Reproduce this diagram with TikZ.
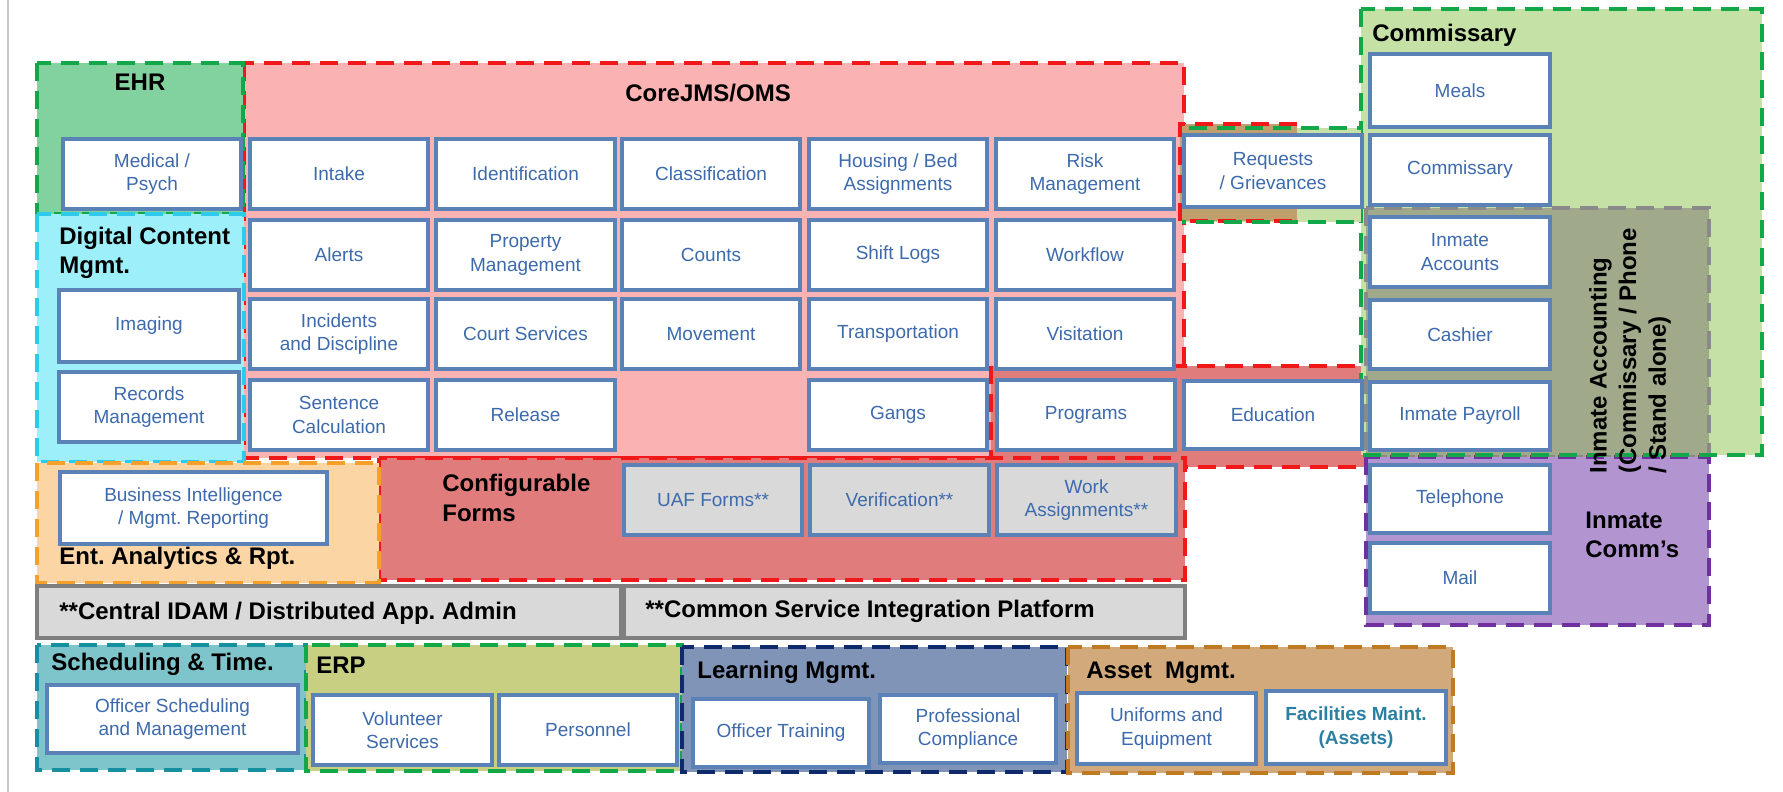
\documentclass[tikz,border=0pt]{standalone}
\usepackage{fontspec}
\setmainfont{Liberation Sans}
\frenchspacing

% fills of the functional groups
\definecolor{ehrfill}{HTML}{82D2A0}
\definecolor{corefill}{HTML}{FAB2B2}
\definecolor{formsfill}{HTML}{E07C7C}
\definecolor{dcfill}{HTML}{9DEFF9}
\definecolor{entfill}{HTML}{FCD5A5}
\definecolor{commfill}{HTML}{C5E1A5}
\definecolor{iafill}{HTML}{A0AA8A}
\definecolor{imcfill}{HTML}{B294D1}
\definecolor{schedfill}{HTML}{7EC4CB}
\definecolor{erpfill}{HTML}{C8CF83}
\definecolor{lrnfill}{HTML}{8094B8}
\definecolor{assetfill}{HTML}{D1A97A}
\definecolor{reqfill}{HTML}{BFA06C}
\definecolor{grayfill}{HTML}{D9D9D9}
% outlines
\definecolor{gline}{HTML}{12A84A}
\definecolor{rline}{HTML}{F01818}
\definecolor{cline}{HTML}{2CCBEB}
\definecolor{oline}{HTML}{F5A02A}
\definecolor{barline}{HTML}{7F7F7F}
\definecolor{tline}{HTML}{14909E}
\definecolor{nline}{HTML}{0F2A6B}
\definecolor{bline}{HTML}{C07A22}
\definecolor{pline}{HTML}{7030A0}
\definecolor{gyline}{HTML}{8A8A8A}
\definecolor{itemline}{HTML}{5A82B6}
\definecolor{itemtext}{HTML}{3D6AAC}
\definecolor{facitext}{HTML}{2A7FA3}

\tikzset{
  grp/.style={line width=2pt, dash pattern=on 9pt off 5pt},
  item/.style={draw=itemline, line width=1.6pt, fill=white, text=itemtext,
    font=\fontsize{9.5}{11.6}\selectfont, align=center, inner sep=0pt},
  formitem/.style={fill=grayfill},
  ttl/.style={font=\bfseries\fontsize{12}{14.8}\selectfont, text=black,
    inner sep=0pt, align=left},
  bar/.style={draw=barline, line width=2pt, fill=grayfill},
}

% box given by its corners: [style]{name}{x1}{y1}{x2}{y2}{text}
\newcommand\cellbox[7][]{%
  \pgfmathsetmacro\cbx{(#3+#5)/2}%
  \pgfmathsetmacro\cby{(#4+#6)/2}%
  \pgfmathsetmacro\cbw{(#5-#3)*0.5}%
  \pgfmathsetmacro\cbh{(#6-#4)*0.5}%
  \node[item,#1,minimum width=\cbw pt,minimum height=\cbh pt] (#2) at (\cbx,\cby) {#7};}

\begin{document}
\begin{tikzpicture}[x=0.5pt,y=-0.5pt]
\useasboundingbox (0,0) rectangle (1783,792);
\fill[white] (0,0) rectangle (1783,792);
\draw[line width=0.6pt, draw=black!22] (8,0) -- (8,792);

% ---- Core JMS / OMS and its red sub-areas
\draw[grp, draw=rline, fill=corefill] (244,63) rectangle (1184,458);
\draw[grp, draw=rline, fill=formsfill] (991,366) rectangle (1366,467);
\draw[grp, draw=rline, fill=formsfill] (379,458) rectangle (1185,580);

% ---- left column groups
\draw[grp, draw=gline, fill=ehrfill] (37,63) rectangle (243,214);
\draw[grp, draw=cline, fill=dcfill] (37,214) rectangle (244,462);
\draw[grp, draw=oline, fill=entfill] (37,463) rectangle (379,583);

% ---- shared platforms
\draw[bar] (37,586) rectangle (621,638);
\draw[bar] (624,586) rectangle (1185,638);

% ---- bottom row groups
\draw[grp, draw=tline, fill=schedfill] (37,645) rectangle (306,770);
\draw[grp, draw=gline, fill=erpfill] (306,645) rectangle (682,771);
\draw[grp, draw=nline, fill=lrnfill] (682,647) rectangle (1067,772);
\draw[grp, draw=bline, fill=assetfill] (1068,647) rectangle (1453,773);

% ---- commissary side
\fill[commfill] (1361,9) rectangle (1762,455);
\draw[grp, draw=gyline, fill=iafill] (1366,208) rectangle (1709,457);
\draw[grp, draw=pline, fill=imcfill] (1366,457) rectangle (1709,625);
\draw[grp, draw=gline] (1361,9) rectangle (1762,455);

% requests / grievances overlap of core and commissary
\fill[commfill] (1182,128) rectangle (1361,222);
\fill[reqfill] (1180,124) rectangle (1297,221);
\draw[grp, draw=rline] (1297,124) -- (1180,124) -- (1180,221) -- (1297,221);
\draw[grp, draw=gline, dash phase=7pt] (1361,128) -- (1182,128) (1182,222) -- (1361,222);

% ---- items
\cellbox{medpsych}{63}{139}{241}{209}{Medical /\\Psych}
\cellbox{intake}{250}{139}{428}{209}{Intake}
\cellbox{ident}{436}{139}{615}{209}{Identification}
\cellbox{classif}{622}{139}{800}{209}{Classification}
\cellbox{housing}{809}{139}{987}{209}{Housing / Bed\\Assignments}
\cellbox{risk}{996}{139}{1174}{209}{Risk\\Management}
\cellbox{alerts}{250}{220}{428}{290}{Alerts}
\cellbox{property}{436}{220}{615}{290}{Property\\Management}
\cellbox{counts}{622}{220}{800}{290}{Counts}
\cellbox{shiftlogs}{809}{220}{987}{290}{Shift Logs}
\cellbox{workflow}{996}{220}{1174}{290}{Workflow}
\cellbox{incidents}{250}{299}{428}{369}{Incidents\\and Discipline}
\cellbox{court}{436}{299}{615}{369}{Court Services}
\cellbox{movement}{622}{299}{800}{369}{Movement}
\cellbox{transport}{809}{299}{987}{369}{Transportation}
\cellbox{visitation}{996}{299}{1174}{369}{Visitation}
\cellbox{sentence}{250}{380}{428}{450}{Sentence\\Calculation}
\cellbox{release}{436}{380}{615}{450}{Release}
\cellbox{gangs}{809}{380}{987}{450}{Gangs}
\cellbox{programs}{997}{380}{1175}{450}{Programs}
\cellbox{requests}{1184}{135}{1362}{207}{Requests\\/ Grievances}
\cellbox{education}{1184}{381}{1362}{449}{Education}

\cellbox{meals}{1370}{54}{1550}{127}{Meals}
\cellbox{commbox}{1370}{135}{1550}{205}{Commissary}
\cellbox{accounts}{1370}{217}{1550}{287}{Inmate\\Accounts}
\cellbox{cashier}{1370}{300}{1550}{369}{Cashier}
\cellbox{payroll}{1370}{382}{1550}{450}{Inmate Payroll}
\cellbox{telephone}{1370}{465}{1550}{533}{Telephone}
\cellbox{mail}{1370}{543}{1550}{613}{Mail}

\cellbox{imaging}{59}{290}{239}{362}{Imaging}
\cellbox{records}{59}{372}{239}{442}{Records\\Management}
\cellbox{bi}{60}{472}{327}{544}{Business Intelligence\\/ Mgmt. Reporting}

\cellbox[formitem]{uaf}{624}{465}{802}{535}{UAF Forms**}
\cellbox[formitem]{verif}{810}{465}{989}{535}{Verification**}
\cellbox[formitem]{workassign}{997}{465}{1176}{535}{Work\\Assignments**}

\cellbox{offsched}{47}{685}{298}{753}{Officer Scheduling\\and Management}
\cellbox{volunteer}{313}{695}{492}{765}{Volunteer\\Services}
\cellbox{personnel}{499}{695}{677}{765}{Personnel}
\cellbox{offtrain}{693}{699}{869}{767}{Officer Training}
\cellbox{profcomp}{880}{695}{1056}{763}{Professional\\Compliance}
\cellbox{uniforms}{1077}{693}{1256}{764}{Uniforms and\\Equipment}
\cellbox[text=facitext, font=\bfseries\fontsize{9.5}{11.6}\selectfont]{facilities}{1266}{691}{1446}{764}{Facilities Maint.\\(Assets)}

% ---- group titles
\node[ttl] (tEHR) at (140,82) {EHR};
\node[ttl, anchor=west] (tCore) at (625,93) {CoreJMS/OMS};
\node[ttl, anchor=west] (tComm) at (1372,35) {Commissary};
\node[ttl, anchor=west] (tDig) at (59,253) {Digital Content\\Mgmt.};
\node[ttl, anchor=west] (tEnt) at (59,558) {Ent. Analytics \& Rpt.};
\node[ttl, anchor=west] (tForms) at (442,498) {Configurable\\Forms};
\node[ttl, anchor=west] (tIdam) at (59,613) {**Central IDAM / Distributed App. Admin};
\node[ttl, anchor=west] (tCsip) at (645,611) {**Common Service Integration Platform};
\node[ttl, anchor=west] (tSched) at (51,664) {Scheduling \& Time.};
\node[ttl, anchor=west] (tErp) at (316,665) {ERP};
\node[ttl, anchor=west] (tLearn) at (697,672) {Learning Mgmt.};
\node[ttl, anchor=west] (tAsset) at (1086,673) {Asset~ Mgmt.};
\node[ttl, anchor=west] (tIComm) at (1585,535) {Inmate\\Comm’s};
\node[ttl, rotate=90, anchor=west] (tIAcc) at (1630,474) {Inmate Accounting\\(Commissary / Phone\\/ Stand alone)};
\end{tikzpicture}
\end{document}
